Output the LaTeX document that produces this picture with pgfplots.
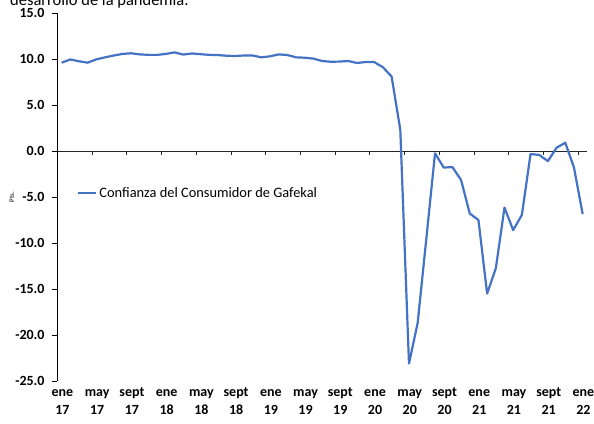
\documentclass[border=0pt]{standalone}
\usepackage{fontspec}
\setmainfont{Carlito}
\usepackage{pgfplots}
\pgfplotsset{compat=1.18}
\definecolor{lineblue}{RGB}{68,114,196}
\begin{document}
\begin{tikzpicture}[x=1pt,y=1pt]
% zero line with its tick marks
\begin{axis}[
  at={(57.3pt,42pt)}, anchor=south west,
  scale only axis, width=529.7pt, height=368pt,
  xmin=-0.5, xmax=60.5, ymin=-25, ymax=15,
  axis x line=middle, axis y line=none,
  axis line style={-, black!85, line width=0.9pt},
  xtick={-0.5,3.5,...,59.5}, xticklabels={},
  tick align=outside, major tick length=4pt,
  major tick style={black!85, line width=0.9pt},
]
\end{axis}
\begin{axis}[
  at={(57.3pt,42pt)}, anchor=south west,
  scale only axis, width=529.7pt, height=368pt,
  xmin=-0.5, xmax=60.5, ymin=-25, ymax=15,
  axis y line*=left, axis x line*=bottom,
  x axis line style={draw=none},
  y axis line style={-, black, line width=0.9pt},
  xtick={0,4,...,60},
  xticklabels={{\strut ene\\17},{\strut may\\17},{\strut sept\\17},{\strut ene\\18},{\strut may\\18},{\strut sept\\18},{\strut ene\\19},{\strut may\\19},{\strut sept\\19},{\strut ene\\20},{\strut may\\20},{\strut sept\\20},{\strut ene\\21},{\strut may\\21},{\strut sept\\21},{\strut ene\\22}},
  xticklabel style={align=center, font=\fontsize{14}{17.5}\selectfont\bfseries, anchor=north, inner sep=0pt, yshift=2.2pt, xshift=0.8pt},
  major x tick style={draw=none},
  ytick={-25,-20,...,15},
  yticklabel style={font=\fontsize{14}{17}\selectfont\bfseries, xshift=-3.5pt, /pgf/number format/fixed, /pgf/number format/fixed zerofill, /pgf/number format/precision=1, /pgf/number format/assume math mode=true},
  tick align=outside, major tick length=5.7pt,
  major y tick style={black, line width=0.9pt},
  ylabel={Pts.},
  ylabel style={at={(axis description cs:-0.0855,0.5)}, anchor=center, font=\fontsize{7}{8}\selectfont},
  legend style={at={(0.0372,0.511)}, anchor=west, draw=none, fill=none, inner sep=0pt, font=\fontsize{14.4}{17}\selectfont, cells={anchor=west}},
  legend image code/.code={\draw[#1] (0pt,0pt) -- (18pt,0pt);},
]
\addplot[lineblue, line width=2.2pt, line join=round] coordinates {
(0,9.6) (1,9.95) (2,9.75) (3,9.6) (4,9.96) (5,10.18) (6,10.38) (7,10.55) (8,10.62) (9,10.5)
(10,10.45) (11,10.45) (12,10.55) (13,10.72) (14,10.48) (15,10.6) (16,10.52) (17,10.45) (18,10.43) (19,10.35)
(20,10.33) (21,10.38) (22,10.38) (23,10.18) (24,10.29) (25,10.5) (26,10.43) (27,10.18) (28,10.14) (29,10.04)
(30,9.78) (31,9.7) (32,9.72) (33,9.78) (34,9.57) (35,9.67) (36,9.67) (37,9.1) (38,8.1) (39,2.3)
(40,-23.1) (41,-18.7) (42,-9.5) (43,-0.25) (44,-1.8) (45,-1.75) (46,-3.15) (47,-6.8) (48,-7.5) (49,-15.5)
(50,-12.75) (51,-6.15) (52,-8.6) (53,-6.95) (54,-0.33) (55,-0.43) (56,-1.1) (57,0.36) (58,0.9) (59,-1.8)
(60,-6.85)
};
\addlegendentry{Confianza del Consumidor de Gafekal}
\end{axis}
\node[anchor=base west, font=\fontsize{16.5}{19}\selectfont, inner sep=0pt] at (10pt,417pt) {desarrollo de la pandemia.};
\pgfresetboundingbox
\useasboundingbox (0,0) rectangle (594pt,423pt);
\end{tikzpicture}
\end{document}
